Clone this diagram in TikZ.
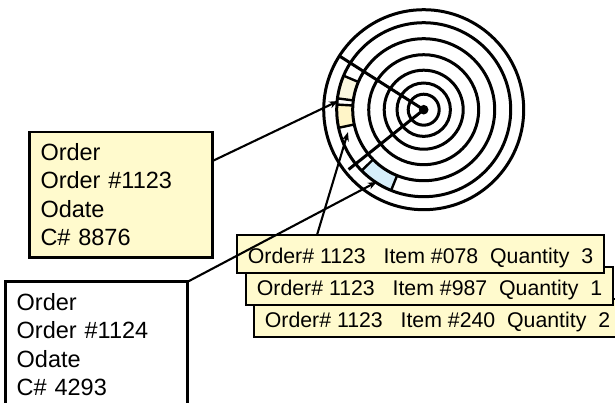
\documentclass[tikz,border=0pt]{standalone}
\usepackage{fontspec}
\setmainfont{Liberation Sans}
\usetikzlibrary{arrows.meta,calc}
\definecolor{boxyellow}{RGB}{255,250,205}
\definecolor{cellpale}{RGB}{251,248,224}
\definecolor{cellyellow}{RGB}{255,245,200}
\definecolor{cellblue}{RGB}{214,238,250}
\begin{document}
\begin{tikzpicture}[x=1pt,y=-1pt,
  ring/.style={draw=black,line width=3pt},
  celledge/.style={draw=black,line width=2.4pt},
  orderbox/.style={draw=black,line width=2.8pt,anchor=north west,outer sep=0pt,
    align=left,inner xsep=11pt,inner ysep=11.4pt,
    font=\fontsize{23.5}{28.5}\selectfont},
  itembox/.style={draw=black,fill=boxyellow,line width=2.8pt,anchor=north west,
    outer sep=0pt,minimum width=367pt,minimum height=38pt,inner xsep=10pt,
    inner ysep=0pt,text height=22pt,text depth=3.8pt,
    font=\fontsize{21.3}{25}\selectfont},
  link/.style={line width=2.1pt,-{Stealth[length=9pt,width=7pt]}}
]
\clip (0,0) rectangle (615,402);
\coordinate (c) at (423.7,109.7);
% target disk
\begin{scope}[shift={(c)},yscale=-1]
  \fill[cellpale] (157:71) arc[start angle=157,end angle=172.5,radius=71]
    -- (172.5:87) arc[start angle=172.5,end angle=157,radius=87] -- cycle;
  \fill[cellyellow] (176.6:71) arc[start angle=176.6,end angle=192,radius=71]
    -- (192:87) arc[start angle=192,end angle=176.6,radius=87] -- cycle;
  \fill[cellblue] (224.5:71) arc[start angle=224.5,end angle=248,radius=71]
    -- (248:87) arc[start angle=248,end angle=224.5,radius=87] -- cycle;
  \foreach \r in {100,87,71,55,39.5,26.7,15.5}
    \draw[ring] (0,0) circle[radius=\r];
  \fill (0,0) circle[radius=4.8];
  \foreach \a in {157,172.5,176.6,192,224.5,248}
    \draw[celledge] (\a:71) -- (\a:87);
  \draw[ring] (0,0) -- (147.5:100);
  \draw[ring] (0,0) -- (218.5:96);
  \coordinate (t1) at (174.2:86);
  \coordinate (t2) at (196.5:79);
  \coordinate (t3) at (237:86);
\end{scope}
% order boxes
\node[orderbox,fill=boxyellow,text width=161pt] (ybox) at (29.5,132)
  {Order\\Order \#1123\\Odate\\C\# 8876};
\node[orderbox,fill=white,text width=160pt] (wbox) at (5.7,281.7)
  {Order\\Order \#1124\\Odate\\C\# 4293};
% item boxes
\node[itembox] (it3) at (254,299) {Order\#~1123~~~Item~\#240~~Quantity~~2};
\node[itembox] (it2) at (246,267) {Order\#~1123~~~Item~\#987~~Quantity~~1};
\node[itembox] (it1) at (237,235) {Order\#~1123~~~Item~\#078~~Quantity~~3};
% connectors
\draw[link] ([yshift=-29pt]ybox.north east) -- (t1);
\draw[link] ([xshift=80pt]it1.north west) -- (t2);
\draw[link] (wbox.north east) -- (t3);
\end{tikzpicture}
\end{document}
